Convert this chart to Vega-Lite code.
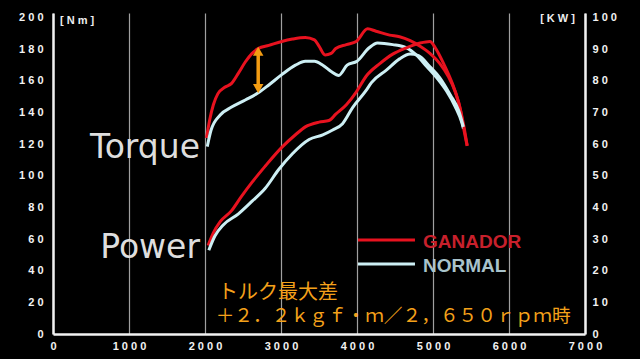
{
  "$schema": "https://vega.github.io/schema/vega-lite/v6.json",
  "width": 532,
  "height": 321,
  "autosize": {"type": "none"},
  "padding": {"left": 53, "top": 13, "right": 55, "bottom": 25},
  "background": "#000000",
  "config": {
    "view": {"stroke": null},
    "axis": {"labelFont": "Liberation Sans", "labelFontWeight": "bold", "labelFontSize": 11, "labelColor": "#f2f2f2", "ticks": false, "title": null, "domainColor": "#f2f2f2", "domainWidth": 2.5, "grid": false, "labelFlush": false, "labelOverlap": false}
  },
  "datasets": {
    "curves": [
      {"rpm": 2020, "value": 124, "series": "GANADOR", "measure": "Torque"},
      {"rpm": 2060, "value": 135, "series": "GANADOR", "measure": "Torque"},
      {"rpm": 2110, "value": 145, "series": "GANADOR", "measure": "Torque"},
      {"rpm": 2170, "value": 152, "series": "GANADOR", "measure": "Torque"},
      {"rpm": 2260, "value": 156, "series": "GANADOR", "measure": "Torque"},
      {"rpm": 2350, "value": 158.5, "series": "GANADOR", "measure": "Torque"},
      {"rpm": 2440, "value": 165, "series": "GANADOR", "measure": "Torque"},
      {"rpm": 2530, "value": 172, "series": "GANADOR", "measure": "Torque"},
      {"rpm": 2620, "value": 177.5, "series": "GANADOR", "measure": "Torque"},
      {"rpm": 2700, "value": 180.5, "series": "GANADOR", "measure": "Torque"},
      {"rpm": 2840, "value": 182.5, "series": "GANADOR", "measure": "Torque"},
      {"rpm": 3010, "value": 185, "series": "GANADOR", "measure": "Torque"},
      {"rpm": 3150, "value": 186.5, "series": "GANADOR", "measure": "Torque"},
      {"rpm": 3320, "value": 187.5, "series": "GANADOR", "measure": "Torque"},
      {"rpm": 3440, "value": 186, "series": "GANADOR", "measure": "Torque"},
      {"rpm": 3500, "value": 182, "series": "GANADOR", "measure": "Torque"},
      {"rpm": 3580, "value": 176.5, "series": "GANADOR", "measure": "Torque"},
      {"rpm": 3660, "value": 177.5, "series": "GANADOR", "measure": "Torque"},
      {"rpm": 3720, "value": 180.5, "series": "GANADOR", "measure": "Torque"},
      {"rpm": 3860, "value": 183, "series": "GANADOR", "measure": "Torque"},
      {"rpm": 3990, "value": 185, "series": "GANADOR", "measure": "Torque"},
      {"rpm": 4140, "value": 193, "series": "GANADOR", "measure": "Torque"},
      {"rpm": 4250, "value": 191.5, "series": "GANADOR", "measure": "Torque"},
      {"rpm": 4430, "value": 189, "series": "GANADOR", "measure": "Torque"},
      {"rpm": 4560, "value": 188, "series": "GANADOR", "measure": "Torque"},
      {"rpm": 4700, "value": 185.5, "series": "GANADOR", "measure": "Torque"},
      {"rpm": 4830, "value": 182, "series": "GANADOR", "measure": "Torque"},
      {"rpm": 4960, "value": 177.5, "series": "GANADOR", "measure": "Torque"},
      {"rpm": 5090, "value": 171, "series": "GANADOR", "measure": "Torque"},
      {"rpm": 5200, "value": 163, "series": "GANADOR", "measure": "Torque"},
      {"rpm": 5290, "value": 153.5, "series": "GANADOR", "measure": "Torque"},
      {"rpm": 5360, "value": 142, "series": "GANADOR", "measure": "Torque"},
      {"rpm": 5400, "value": 131, "series": "GANADOR", "measure": "Torque"},
      {"rpm": 5450, "value": 119, "series": "GANADOR", "measure": "Torque"},
      {"rpm": 2030, "value": 118.5, "series": "NORMAL", "measure": "Torque"},
      {"rpm": 2080, "value": 129, "series": "NORMAL", "measure": "Torque"},
      {"rpm": 2200, "value": 138.5, "series": "NORMAL", "measure": "Torque"},
      {"rpm": 2350, "value": 143.5, "series": "NORMAL", "measure": "Torque"},
      {"rpm": 2530, "value": 148, "series": "NORMAL", "measure": "Torque"},
      {"rpm": 2700, "value": 152.5, "series": "NORMAL", "measure": "Torque"},
      {"rpm": 2840, "value": 157.5, "series": "NORMAL", "measure": "Torque"},
      {"rpm": 3010, "value": 164, "series": "NORMAL", "measure": "Torque"},
      {"rpm": 3190, "value": 170, "series": "NORMAL", "measure": "Torque"},
      {"rpm": 3320, "value": 172.5, "series": "NORMAL", "measure": "Torque"},
      {"rpm": 3440, "value": 172.5, "series": "NORMAL", "measure": "Torque"},
      {"rpm": 3550, "value": 170, "series": "NORMAL", "measure": "Torque"},
      {"rpm": 3660, "value": 166, "series": "NORMAL", "measure": "Torque"},
      {"rpm": 3760, "value": 163.5, "series": "NORMAL", "measure": "Torque"},
      {"rpm": 3870, "value": 170, "series": "NORMAL", "measure": "Torque"},
      {"rpm": 4000, "value": 172.5, "series": "NORMAL", "measure": "Torque"},
      {"rpm": 4160, "value": 181, "series": "NORMAL", "measure": "Torque"},
      {"rpm": 4270, "value": 184, "series": "NORMAL", "measure": "Torque"},
      {"rpm": 4470, "value": 183, "series": "NORMAL", "measure": "Torque"},
      {"rpm": 4650, "value": 181, "series": "NORMAL", "measure": "Torque"},
      {"rpm": 4780, "value": 176.5, "series": "NORMAL", "measure": "Torque"},
      {"rpm": 4920, "value": 169, "series": "NORMAL", "measure": "Torque"},
      {"rpm": 5050, "value": 162, "series": "NORMAL", "measure": "Torque"},
      {"rpm": 5180, "value": 153.5, "series": "NORMAL", "measure": "Torque"},
      {"rpm": 5290, "value": 144, "series": "NORMAL", "measure": "Torque"},
      {"rpm": 5380, "value": 133.5, "series": "NORMAL", "measure": "Torque"},
      {"rpm": 5400, "value": 130, "series": "NORMAL", "measure": "Torque"},
      {"rpm": 2040, "value": 28, "series": "GANADOR", "measure": "Power"},
      {"rpm": 2110, "value": 32, "series": "GANADOR", "measure": "Power"},
      {"rpm": 2200, "value": 35.5, "series": "GANADOR", "measure": "Power"},
      {"rpm": 2350, "value": 39, "series": "GANADOR", "measure": "Power"},
      {"rpm": 2480, "value": 43.5, "series": "GANADOR", "measure": "Power"},
      {"rpm": 2620, "value": 48, "series": "GANADOR", "measure": "Power"},
      {"rpm": 2790, "value": 53, "series": "GANADOR", "measure": "Power"},
      {"rpm": 3010, "value": 59, "series": "GANADOR", "measure": "Power"},
      {"rpm": 3190, "value": 63, "series": "GANADOR", "measure": "Power"},
      {"rpm": 3320, "value": 65.5, "series": "GANADOR", "measure": "Power"},
      {"rpm": 3500, "value": 67, "series": "GANADOR", "measure": "Power"},
      {"rpm": 3630, "value": 67.5, "series": "GANADOR", "measure": "Power"},
      {"rpm": 3720, "value": 69.5, "series": "GANADOR", "measure": "Power"},
      {"rpm": 3860, "value": 72.5, "series": "GANADOR", "measure": "Power"},
      {"rpm": 3990, "value": 76.5, "series": "GANADOR", "measure": "Power"},
      {"rpm": 4120, "value": 81.5, "series": "GANADOR", "measure": "Power"},
      {"rpm": 4300, "value": 85.5, "series": "GANADOR", "measure": "Power"},
      {"rpm": 4470, "value": 88.5, "series": "GANADOR", "measure": "Power"},
      {"rpm": 4650, "value": 90.5, "series": "GANADOR", "measure": "Power"},
      {"rpm": 4830, "value": 92, "series": "GANADOR", "measure": "Power"},
      {"rpm": 4960, "value": 92.5, "series": "GANADOR", "measure": "Power"},
      {"rpm": 5030, "value": 90.5, "series": "GANADOR", "measure": "Power"},
      {"rpm": 5140, "value": 85.5, "series": "GANADOR", "measure": "Power"},
      {"rpm": 5250, "value": 79.5, "series": "GANADOR", "measure": "Power"},
      {"rpm": 5340, "value": 73, "series": "GANADOR", "measure": "Power"},
      {"rpm": 5400, "value": 66.5, "series": "GANADOR", "measure": "Power"},
      {"rpm": 5450, "value": 59.5, "series": "GANADOR", "measure": "Power"},
      {"rpm": 2050, "value": 26.5, "series": "NORMAL", "measure": "Power"},
      {"rpm": 2130, "value": 31, "series": "NORMAL", "measure": "Power"},
      {"rpm": 2240, "value": 34.5, "series": "NORMAL", "measure": "Power"},
      {"rpm": 2440, "value": 38, "series": "NORMAL", "measure": "Power"},
      {"rpm": 2620, "value": 42, "series": "NORMAL", "measure": "Power"},
      {"rpm": 2790, "value": 46, "series": "NORMAL", "measure": "Power"},
      {"rpm": 2970, "value": 52, "series": "NORMAL", "measure": "Power"},
      {"rpm": 3150, "value": 57, "series": "NORMAL", "measure": "Power"},
      {"rpm": 3370, "value": 61.5, "series": "NORMAL", "measure": "Power"},
      {"rpm": 3550, "value": 63, "series": "NORMAL", "measure": "Power"},
      {"rpm": 3680, "value": 64.5, "series": "NORMAL", "measure": "Power"},
      {"rpm": 3810, "value": 66.5, "series": "NORMAL", "measure": "Power"},
      {"rpm": 3940, "value": 71.5, "series": "NORMAL", "measure": "Power"},
      {"rpm": 4120, "value": 77, "series": "NORMAL", "measure": "Power"},
      {"rpm": 4190, "value": 79.5, "series": "NORMAL", "measure": "Power"},
      {"rpm": 4390, "value": 83.5, "series": "NORMAL", "measure": "Power"},
      {"rpm": 4560, "value": 87, "series": "NORMAL", "measure": "Power"},
      {"rpm": 4700, "value": 88.5, "series": "NORMAL", "measure": "Power"},
      {"rpm": 4810, "value": 88, "series": "NORMAL", "measure": "Power"},
      {"rpm": 4960, "value": 84.5, "series": "NORMAL", "measure": "Power"},
      {"rpm": 5090, "value": 81, "series": "NORMAL", "measure": "Power"},
      {"rpm": 5230, "value": 75.5, "series": "NORMAL", "measure": "Power"},
      {"rpm": 5340, "value": 70.5, "series": "NORMAL", "measure": "Power"},
      {"rpm": 5400, "value": 65.5, "series": "NORMAL", "measure": "Power"}
    ],
    "leftText": [
      {"rpm": 1934, "value": 111, "label": "Torque", "kind": "big"},
      {"rpm": 1934, "value": 48, "label": "Power", "kind": "big"}
    ]
  },
  "layer": [
    {
      "data": {"name": "curves"},
      "transform": [{"filter": "datum.measure === 'Torque'"}],
      "encoding": {
        "x": {"field": "rpm", "type": "quantitative", "scale": {"domain": [0, 7000], "nice": false},
          "axis": {"values": [0, 1000, 2000, 3000, 4000, 5000, 6000, 7000], "format": "d", "labelExpr": "join(split(datum.label, ''), ' ')", "grid": true, "gridColor": "#a0a0a0", "gridWidth": 1.2, "labelPadding": 6}},
        "y": {"field": "value", "type": "quantitative", "scale": {"domain": [0, 203], "nice": false},
          "axis": {"values": [0, 20, 40, 60, 80, 100, 120, 140, 160, 180, 200], "format": "d", "labelExpr": "join(split(datum.label, ''), ' ')", "labelPadding": 10, "labelOverlap": false, "labelBound": false}}
      },
      "layer": [
        {
          "mark": {"type": "line", "strokeWidth": 3, "interpolate": "monotone"},
          "encoding": {
            "color": {"field": "series", "type": "nominal", "scale": {"domain": ["GANADOR", "NORMAL"], "range": ["#e8121f", "#cdeff4"]}, "legend": null}
          }
        },
        {
          "data": {"values": [{"rpm": 2700, "value": 178.5, "value2": 155.5}]},
          "mark": {"type": "rule", "color": "#f39c12", "strokeWidth": 3.5},
          "encoding": {"y2": {"field": "value2"}}
        },
        {
          "data": {"values": [{"rpm": 2700, "value": 178.8, "dir": "up"}, {"rpm": 2700, "value": 155.2, "dir": "down"}]},
          "mark": {"type": "point", "filled": true, "color": "#f39c12", "opacity": 1, "size": 110},
          "encoding": {
            "shape": {"field": "dir", "type": "nominal", "scale": {"domain": ["up", "down"], "range": ["triangle-up", "triangle-down"]}, "legend": null}
          }
        },
        {
          "data": {"name": "leftText"},
          "mark": {"type": "text", "align": "right", "baseline": "alphabetic", "font": "DejaVu Sans", "fontSize": 33, "color": "#dedede"},
          "encoding": {"text": {"field": "label"}}
        },
        {
          "data": {"values": [{"rpm": 92, "value": 196, "label": "[ N m ]"}]},
          "mark": {"type": "text", "align": "left", "baseline": "alphabetic", "font": "Liberation Sans", "fontWeight": "bold", "fontSize": 11, "color": "#eeeeee"},
          "encoding": {"text": {"field": "label"}}
        },
        {
          "data": {"values": [{"rpm": 6868, "value": 197, "label": "[ K W ]"}]},
          "mark": {"type": "text", "align": "right", "baseline": "alphabetic", "font": "Liberation Sans", "fontWeight": "bold", "fontSize": 11, "color": "#eeeeee"},
          "encoding": {"text": {"field": "label"}}
        },
        {
          "data": {"values": [{"rpm": 4013, "rpm2": 4763, "value": 59.5, "series": "GANADOR"}, {"rpm": 4013, "rpm2": 4763, "value": 44.3, "series": "NORMAL"}]},
          "mark": {"type": "rule", "strokeWidth": 3},
          "encoding": {
            "x2": {"field": "rpm2"},
            "color": {"field": "series", "type": "nominal", "legend": null}
          }
        },
        {
          "data": {"values": [{"rpm": 4868, "value": 54.4, "label": "GANADOR"}, {"rpm": 4868, "value": 39.2, "label": "NORMAL"}]},
          "mark": {"type": "text", "align": "left", "baseline": "alphabetic", "font": "Liberation Sans", "fontWeight": "bold", "fontSize": 19},
          "encoding": {
            "text": {"field": "label"},
            "color": {"condition": {"test": "datum.label === 'GANADOR'", "value": "#c8202c"}, "value": "#a9c3cb"}
          }
        },
        {
          "data": {"values": [{"rpm": 2171, "value": 22, "label": "トルク最大差"}]},
          "mark": {"type": "text", "align": "left", "baseline": "alphabetic", "font": "Noto Sans CJK JP", "fontSize": 20, "color": "#f4a11a"},
          "encoding": {"text": {"field": "label"}}
        },
        {
          "data": {"values": [{"rpm": 2140, "value": 7.3, "label": "＋２．２ｋｇｆ・ｍ／２，６５０ｒｐｍ時"}]},
          "mark": {"type": "text", "align": "left", "baseline": "alphabetic", "font": "Noto Sans CJK JP", "fontSize": 18.7, "color": "#f4a11a"},
          "encoding": {"text": {"field": "label"}}
        }
      ]
    },
    {
      "data": {"name": "curves"},
      "transform": [{"filter": "datum.measure === 'Power'"}],
      "mark": {"type": "line", "strokeWidth": 3, "interpolate": "monotone"},
      "encoding": {
        "x": {"field": "rpm", "type": "quantitative", "scale": {"domain": [0, 7000], "nice": false},
          "axis": {"values": [0, 1000, 2000, 3000, 4000, 5000, 6000, 7000], "format": "d", "labelExpr": "join(split(datum.label, ''), ' ')", "grid": true, "gridColor": "#a0a0a0", "gridWidth": 1.2, "labelPadding": 6}},
        "y": {"field": "value", "type": "quantitative", "scale": {"domain": [0, 101.5], "nice": false},
          "axis": {"orient": "right", "values": [0, 10, 20, 30, 40, 50, 60, 70, 80, 90, 100], "format": "d", "labelExpr": "join(split(datum.label, ''), ' ')", "labelPadding": 7, "labelOverlap": false}},
        "color": {"field": "series", "type": "nominal", "legend": null}
      }
    }
  ],
  "resolve": {"scale": {"y": "independent"}, "axis": {"y": "independent"}}
}
